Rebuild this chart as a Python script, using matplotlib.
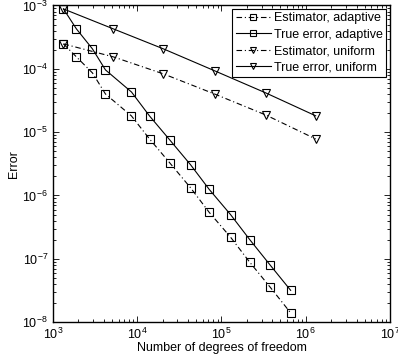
import matplotlib
matplotlib.use('Agg')
import matplotlib.pyplot as plt
from matplotlib.ticker import LogLocator, NullFormatter

plt.rcParams['font.family'] = ['Liberation Sans', 'DejaVu Sans']
plt.rcParams['mathtext.fontset'] = 'custom'
plt.rcParams['mathtext.rm'] = 'Liberation Sans'

# adaptive refinement
dofs_adapt = [1334, 1900, 2944, 4200, 8550, 14000, 24200, 43000, 71600, 128000, 217000, 380000, 662000]
est_adapt = [2.47e-4, 1.54e-4, 8.6e-5, 4.0e-5, 1.8e-5, 7.8e-6, 3.3e-6, 1.32e-6, 5.4e-7, 2.2e-7, 8.8e-8, 3.54e-8, 1.40e-8]
err_adapt = [8.8e-4, 4.26e-4, 2.06e-4, 9.6e-5, 4.3e-5, 1.8e-5, 7.6e-6, 3.05e-6, 1.245e-6, 5.0e-7, 2.0e-7, 7.9e-8, 3.18e-8]

# uniform refinement
dofs_unif = [1334, 5220, 20500, 82800, 334000, 1310000]
est_unif = [2.47e-4, 1.54e-4, 8.3e-5, 4.0e-5, 1.87e-5, 7.8e-6]
err_unif = [8.8e-4, 4.26e-4, 2.06e-4, 9.3e-5, 4.17e-5, 1.81e-5]

fig = plt.figure(figsize=(3.98, 3.62), dpi=100)
ax = fig.add_axes([0.133, 0.11, 0.847, 0.875])

dashdot = (0, (5, 2.5, 1, 2.5))
mk = dict(color='black', linewidth=0.8, markerfacecolor='none', markeredgecolor='black',
          markeredgewidth=0.8, markersize=6)

ax.loglog(dofs_adapt, est_adapt, linestyle=dashdot, marker='s', label='Estimator, adaptive', **mk)
ax.loglog(dofs_adapt, err_adapt, linestyle='-', marker='s', label='True error, adaptive', **mk)
ax.loglog(dofs_unif, est_unif, linestyle=dashdot, marker='v', label='Estimator, uniform', **mk)
ax.loglog(dofs_unif, err_unif, linestyle='-', marker='v', label='True error, uniform', **mk)

ax.set_xlim(1e3, 1e7)
ax.set_ylim(1e-8, 1e-3)
ax.xaxis.set_major_locator(LogLocator(base=10, numticks=10))
ax.yaxis.set_major_locator(LogLocator(base=10, numticks=10))
ax.xaxis.set_minor_locator(LogLocator(base=10, subs=range(2, 10), numticks=20))
ax.yaxis.set_minor_locator(LogLocator(base=10, subs=range(2, 10), numticks=20))
ax.xaxis.set_minor_formatter(NullFormatter())
ax.yaxis.set_minor_formatter(NullFormatter())
ax.tick_params(which='both', direction='in', top=True, right=True, labelsize=9, width=0.6)
ax.tick_params(which='major', length=4)
ax.tick_params(which='minor', length=2)
for s in ax.spines.values():
    s.set_linewidth(1.0)

ax.set_xlabel('Number of degrees of freedom', fontsize=9, labelpad=0)
ax.set_ylabel('Error', fontsize=9, labelpad=2)

leg = ax.legend(loc='upper right', fontsize=9, frameon=True, fancybox=False, framealpha=1,
                edgecolor='black', handlelength=2.8, borderaxespad=0.3, borderpad=0.25,
                labelspacing=0.35, handletextpad=0.3, markerscale=0.8)
leg.get_frame().set_linewidth(0.8)

fig.savefig('out.png', dpi=100)
